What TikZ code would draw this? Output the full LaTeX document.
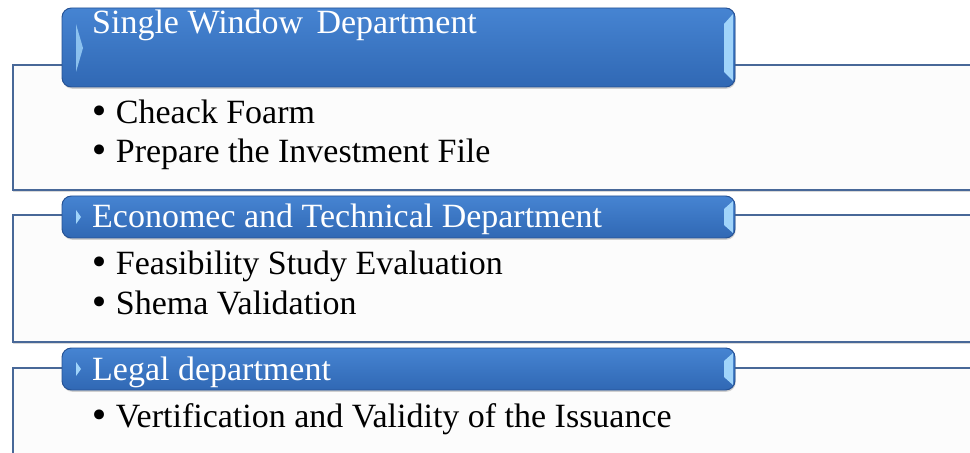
\documentclass[tikz,border=0pt]{standalone}
\usepackage{fontspec}
\setmainfont{Liberation Serif}
\newfontfamily\bulfont{DejaVu Sans}
\usetikzlibrary{positioning,shadows}
\definecolor{hdrtop}{RGB}{70,132,210}
\definecolor{hdrbot}{RGB}{48,104,180}
\definecolor{hdrline}{RGB}{38,82,148}
\definecolor{hdrhi}{RGB}{160,212,250}
\definecolor{panelline}{RGB}{72,104,152}
\definecolor{panelfill}{RGB}{252,252,252}
\newcommand{\bul}{{\bulfont •}\hspace{0.2cm}}

\begin{document}
\begin{tikzpicture}[
    x=0.03cm, y=-0.03cm,
    panel/.style={draw=panelline, line width=0.9pt, fill=panelfill, drop shadow={shadow xshift=0.4pt, shadow yshift=-1.5pt, opacity=0.3}},
    header/.style={draw=hdrline, line width=0.8pt, rounded corners=8pt, top color=hdrtop, bottom color=hdrbot, drop shadow={shadow xshift=0.6pt, shadow yshift=-1.5pt, opacity=0.35}},
    bevel/.style={fill=hdrhi, draw=none},
    title/.style={anchor=base west, inner sep=0pt, text=white, font=\fontsize{29}{33}\selectfont},
    item/.style={anchor=base west, inner sep=0pt, font=\fontsize{29}{33}\selectfont}
]
\useasboundingbox (0,0) rectangle (970,453);
\clip (0,0) rectangle (970,453);

% Single Window
\draw[panel] (13,65) rectangle (990,190);
\draw[header] (62,8) rectangle (735,87);
\fill[bevel, opacity=0.8] (76,24) -- (83,48) -- (76,72) -- cycle;
\fill[bevel] (733,14) -- (733,81) -- (724,72) -- (724,24) -- cycle;
\node[title] (t1) at (92,34) {Single Window\hspace{0.4cm}Department};
\node[item] (a1) at (89,124) {\bul Cheack Foarm};
\node[item] (a2) at (89,163) {\bul Prepare the Investment File};

% Economec and Technical
\draw[panel] (13,215) rectangle (990,342);
\draw[header] (62,196) rectangle (735,238);
\fill[bevel] (76,210) -- (81,217) -- (76,224) -- cycle;
\fill[bevel] (733,201) -- (733,233) -- (724,225) -- (724,209) -- cycle;
\node[title] (t2) at (92,227) {Economec and Technical Department};
\node[item] (b1) at (89,275) {\bul Feasibility Study Evaluation};
\node[item] (b2) at (89,314) {\bul Shema Validation};

% Legal
\draw[panel] (13,368) rectangle (990,480);
\draw[header] (62,348) rectangle (735,390);
\fill[bevel] (76,362) -- (81,369) -- (76,376) -- cycle;
\fill[bevel] (733,353) -- (733,385) -- (724,377) -- (724,361) -- cycle;
\node[title] (t3) at (92,380) {Legal department};
\node[item] (c1) at (89,427) {\bul Vertification and Validity of the Issuance};
\end{tikzpicture}
\end{document}
